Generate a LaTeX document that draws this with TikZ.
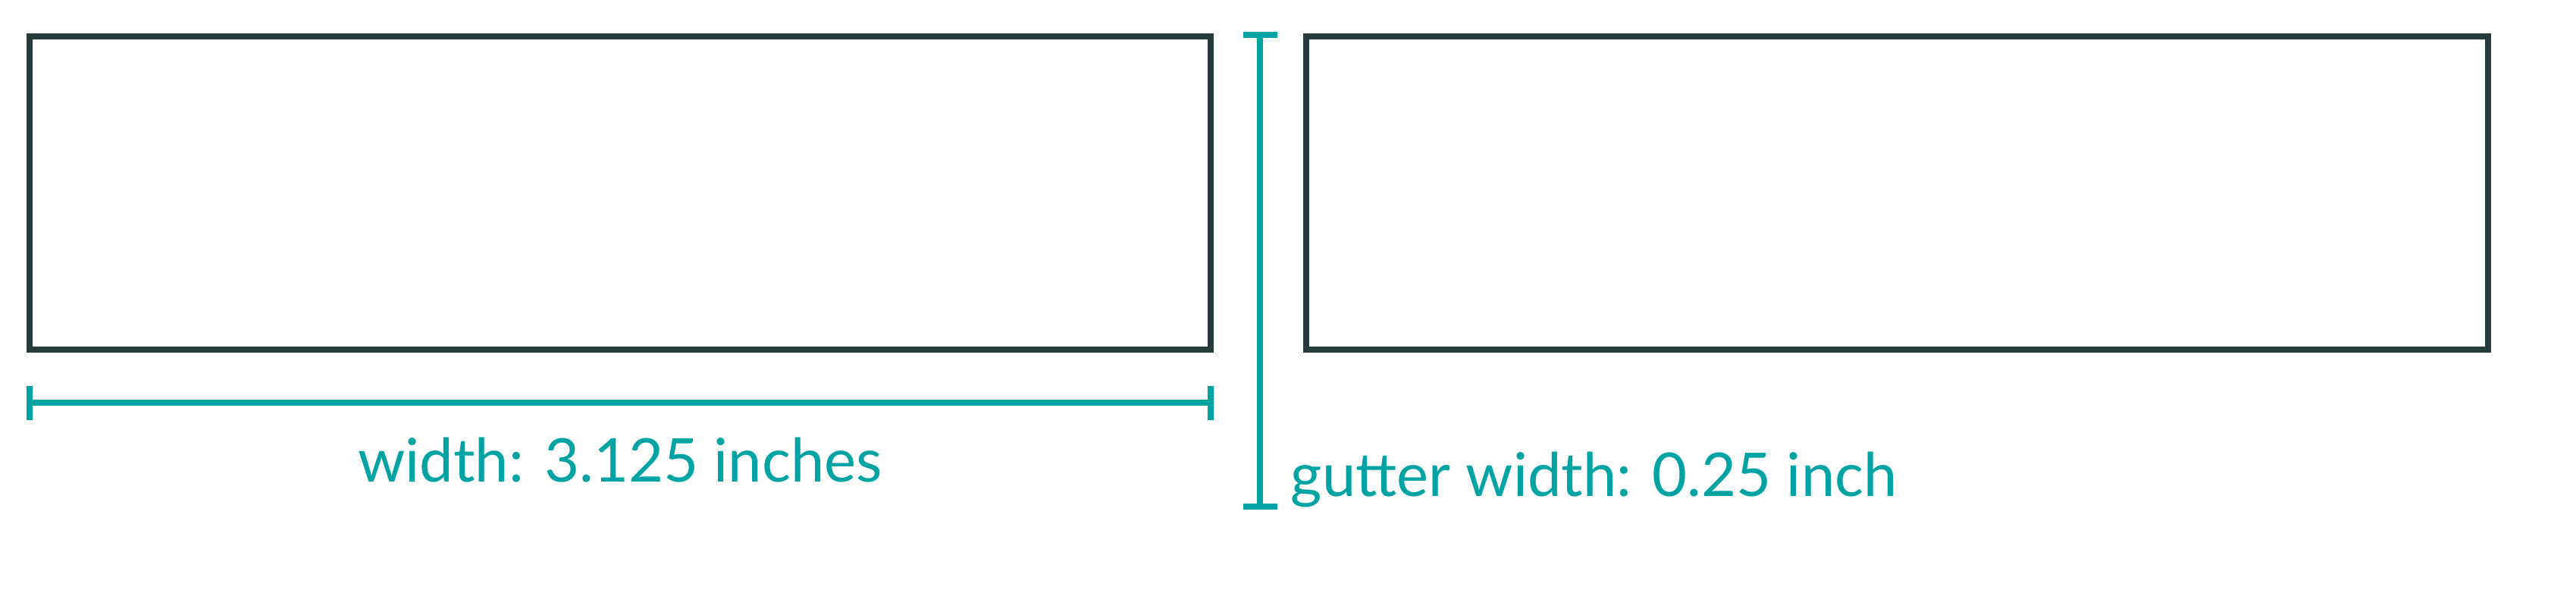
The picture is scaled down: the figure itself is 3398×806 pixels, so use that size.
\documentclass[tikz,border=0pt]{standalone}
\usepackage{fontspec}
\setmainfont{Lato}
\usetikzlibrary{arrows.meta}
\usetikzlibrary{positioning}

\definecolor{boxline}{HTML}{263C3A}
\definecolor{dimteal}{HTML}{00A3A3}

\begin{document}
\begin{tikzpicture}[x=0.01cm, y=-0.01cm,
  column/.style={draw=boxline, line width=0.08cm, minimum width=15.575cm, minimum height=4.13cm, inner sep=0pt, outer sep=0pt},
  dimline/.style={draw=dimteal, line width=0.08cm, {Bar[width=0.45cm]}-{Bar[width=0.45cm]}},
  dimlabel/.style={text=dimteal, font=\fontsize{22.6pt}{27pt}\selectfont, inner sep=0pt}]
\useasboundingbox (0,0) rectangle (3398,806); % 그림 크기

\begin{scope}
\node[column] (col1) at (818,254.5) {};
\node[column] (col2) at (2502.5,254.5) {};
\end{scope}

%% 너비 표시
\coordinate (wstart) at ([xshift=-0.04cm, yshift=-0.7cm]col1.south west);
\coordinate (wend) at ([xshift=0.04cm, yshift=-0.7cm]col1.south east);
\draw[dimline] (wstart) -- (wend);
\node[dimlabel, anchor=base] (wlabel) at (818,635) {width: 3.125 inches};

%% 간격 표시
\coordinate (gtop) at (1662,42);
\coordinate (gbot) at (1662,672);
\draw[dimline] (gtop) -- (gbot);
\node[dimlabel, anchor=base west] (glabel) at (1702,654) {gutter width: 0.25 inch};
\end{tikzpicture}
\end{document}
